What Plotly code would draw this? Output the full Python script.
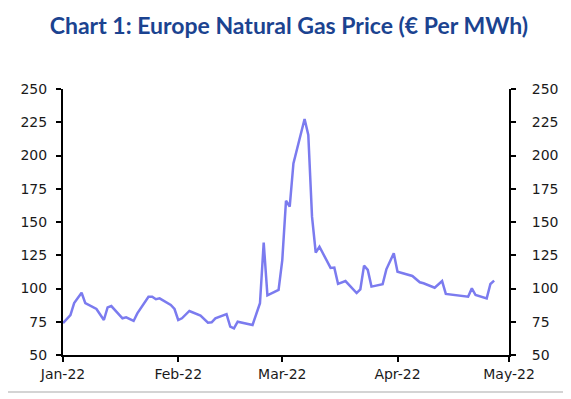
import plotly.graph_objects as go

dates = [
    "2022-01-01", "2022-01-03", "2022-01-04", "2022-01-06", "2022-01-07",
    "2022-01-10", "2022-01-12", "2022-01-13", "2022-01-14", "2022-01-17",
    "2022-01-18", "2022-01-20", "2022-01-21", "2022-01-24", "2022-01-25",
    "2022-01-26", "2022-01-27", "2022-01-30", "2022-01-31", "2022-02-01",
    "2022-02-02", "2022-02-04", "2022-02-07", "2022-02-09", "2022-02-10",
    "2022-02-11", "2022-02-14", "2022-02-15", "2022-02-16", "2022-02-17",
    "2022-02-21", "2022-02-23", "2022-02-24", "2022-02-25", "2022-02-28",
    "2022-03-01", "2022-03-02", "2022-03-03", "2022-03-04", "2022-03-07",
    "2022-03-08", "2022-03-09", "2022-03-10", "2022-03-11", "2022-03-14",
    "2022-03-15", "2022-03-16", "2022-03-18", "2022-03-21", "2022-03-22",
    "2022-03-23", "2022-03-24", "2022-03-25", "2022-03-28", "2022-03-29",
    "2022-03-31", "2022-04-01", "2022-04-05", "2022-04-07", "2022-04-08",
    "2022-04-11", "2022-04-13", "2022-04-14", "2022-04-19", "2022-04-20",
    "2022-04-21", "2022-04-22", "2022-04-25", "2022-04-26", "2022-04-27",
]
prices = [
    74, 80, 89, 96.8, 89,
    84.6, 76.3, 85.8, 86.8, 77.6,
    78.3, 75.6, 81.3, 93.8, 93.8,
    91.9, 92.6, 87.6, 84.6, 76.3,
    77.6, 83.1, 79.6, 74.3, 74.6,
    77.6, 80.8, 71.3, 70, 75,
    72.6, 88.9, 134.5, 94.8, 98.9,
    121.4, 166, 161.5, 194, 227.4,
    215.4, 154, 127, 131.4, 115.5,
    115.7, 103.5, 105.6, 96.6, 99.4,
    117.2, 114, 101.4, 103.2, 114.4,
    126.5, 112.6, 109.4, 104.7, 103.9,
    100.6, 105.6, 95.9, 93.8, 93.8,
    100.1, 95.1, 92.6, 103.4, 105.9,
]

title_text = "Chart 1: Europe Natural Gas Price (€ Per MWh)"
y_ticks = [50, 75, 100, 125, 150, 175, 200, 225, 250]
x_range = ["2022-01-01", "2022-05-01"]
y_range = [50, 250]

tick_font = "'DejaVu Sans', sans-serif"
title_font = "Lato, 'Open Sans', sans-serif"

fig = go.Figure()
fig.add_trace(go.Scatter(
    x=dates, y=prices, mode="lines",
    line=dict(color="#7b7bef", width=2.5),
    showlegend=False, hoverinfo="x+y",
))
fig.add_trace(go.Scatter(
    x=[], y=[], yaxis="y2", showlegend=False, hoverinfo="skip",
))

axis_common = dict(
    showline=True, linecolor="black", linewidth=2,
    ticks="outside", tickcolor="black", tickwidth=2, ticklen=5,
    showgrid=False, zeroline=False,
    tickfont=dict(family=tick_font, size=14, color="#1a1a1a"),
)

fig.update_layout(
    width=563, height=391,
    margin=dict(l=52, r=59, t=81, b=44),
    paper_bgcolor="white", plot_bgcolor="white",
    title=dict(
        text="<b>" + title_text + "</b>",
        x=0.499, xanchor="center", y=0.955, yanchor="middle",
        font=dict(family=title_font, size=23, color="#1b4390"),
    ),
    xaxis=dict(
        range=x_range, type="date", dtick="M1", tick0="2022-01-01",
        tickformat="%b-%y", **axis_common,
    ),
    yaxis=dict(range=y_range, tickvals=y_ticks, ticklabelstandoff=6, **axis_common),
    yaxis2=dict(range=y_range, tickvals=y_ticks, overlaying="y", side="right",
                anchor="x", ticklabelstandoff=13, **axis_common),
    shapes=[dict(
        type="line", xref="paper", yref="paper",
        x0=-60 / 452, x1=1 + 59 / 452, y0=-37 / 266, y1=-37 / 266,
        line=dict(color="#d4d4d4", width=2),
    )],
)

fig.write_html("out.html")
